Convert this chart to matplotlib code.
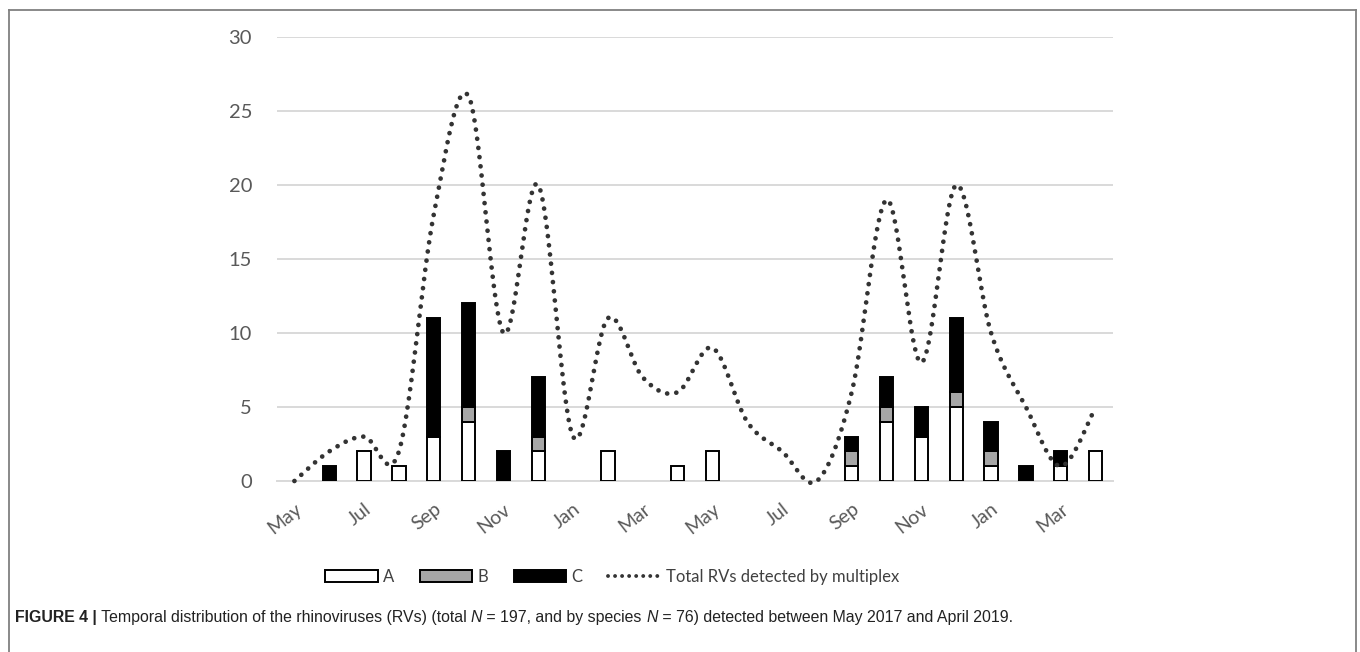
import numpy as np
import matplotlib
matplotlib.use('Agg')
import matplotlib.pyplot as plt
from matplotlib.patches import Patch
from matplotlib.lines import Line2D

# ---------------- data ----------------
months = ['May', 'Jun', 'Jul', 'Aug', 'Sep', 'Oct', 'Nov', 'Dec', 'Jan', 'Feb', 'Mar', 'Apr',
          'May', 'Jun', 'Jul', 'Aug', 'Sep', 'Oct', 'Nov', 'Dec', 'Jan', 'Feb', 'Mar', 'Apr']
species_a = [0, 0, 2, 1, 3, 4, 0, 2, 0, 2, 0, 1, 2, 0, 0, 0, 1, 4, 3, 5, 1, 0, 1, 2]
species_b = [0, 0, 0, 0, 0, 1, 0, 1, 0, 0, 0, 0, 0, 0, 0, 0, 1, 1, 0, 1, 1, 0, 0, 0]
species_c = [0, 1, 0, 0, 8, 7, 2, 4, 0, 0, 0, 0, 0, 0, 0, 0, 1, 2, 2, 5, 2, 1, 1, 0]
total_rv = [0, 2, 3, 2, 18, 26, 10, 20, 3, 11, 7, 6, 9, 4, 2, 0, 6, 19, 8, 20, 10, 5, 1, 5]
yticks = [0, 5, 10, 15, 20, 25, 30]
legend_labels = ['A', 'B', 'C', 'Total RVs detected by multiplex']
caption_parts = [('FIGURE 4 |', 'bold', 'normal'),
                 (' Temporal distribution of the rhinoviruses (RVs) (total ', 'normal', 'normal'),
                 ('N', 'normal', 'italic'),
                 (' = 197, and by species ', 'normal', 'normal'),
                 ('N', 'normal', 'italic'),
                 (' = 76) detected between May 2017 and April 2019.', 'normal', 'normal')]

plt.rcParams['font.family'] = ['Lato', 'DejaVu Sans']

W, H = 1360, 652
fig = plt.figure(figsize=(W / 100, H / 100), dpi=100)
ax = fig.add_axes([277 / W, 1 - 481 / H, (1113 - 277) / W, (481 - 37) / H])

x = np.arange(len(months))
a = np.array(species_a, float)
b = np.array(species_b, float)
c = np.array(species_c, float)
bw = 0.38


def edges(h):
    return ['black' if v > 0 else 'none' for v in h]


ax.bar(x, a, bw, color='white', edgecolor=edges(a), linewidth=1.4, zorder=3)
ax.bar(x, b, bw, bottom=a, color='#a6a6a6', edgecolor=edges(b), linewidth=1.4, zorder=3)
ax.bar(x, c, bw, bottom=a + b, color='black', edgecolor=edges(c), linewidth=1.4, zorder=3)

# smoothed line (Catmull-Rom through the data points, like Excel's smoothed line)
p = np.column_stack([x, np.array(total_rv, float)])
pts = []
n = len(p)
for i in range(n - 1):
    p0 = p[i - 1] if i > 0 else p[i]
    p1 = p[i]
    p2 = p[i + 1]
    p3 = p[i + 2] if i + 2 < n else p[i + 1]
    c1 = p1 + (p2 - p0) / 6.0
    c2 = p2 - (p3 - p1) / 6.0
    t = np.linspace(0, 1, 40)[:, None]
    seg = ((1 - t) ** 3) * p1 + 3 * ((1 - t) ** 2) * t * c1 + 3 * (1 - t) * t ** 2 * c2 + t ** 3 * p2
    pts.append(seg if i == 0 else seg[1:])
pts = np.vstack(pts)
dot_style = (0, (0.01, 1.95))
ax.plot(pts[:, 0], pts[:, 1], color='#333333', linewidth=3.4,
        linestyle=dot_style, dash_capstyle='round', zorder=4, clip_on=False)

ax.set_xlim(-0.5, 23.5)
ax.set_ylim(0, 30)
ax.set_yticks(yticks)
ax.set_yticklabels([str(v) for v in yticks])
ax.set_xticks(x[::2])
ax.set_xticklabels(months[::2], rotation=38, ha='right', rotation_mode='anchor')
ax.yaxis.grid(True, color='#d9d9d9', linewidth=1.4, zorder=0)
ax.set_axisbelow(True)
for s in ['top', 'right', 'left']:
    ax.spines[s].set_visible(False)
ax.spines['bottom'].set_color('#d9d9d9')
ax.spines['bottom'].set_linewidth(1.4)
ax.tick_params(axis='both', length=0, labelcolor='#595959')
ax.tick_params(axis='y', pad=18, labelsize=14.5)
ax.tick_params(axis='x', pad=14, labelsize=14)

handles = [Patch(facecolor='white', edgecolor='black', linewidth=1.4),
           Patch(facecolor='#a6a6a6', edgecolor='black', linewidth=1.4),
           Patch(facecolor='black', edgecolor='black', linewidth=1.4),
           Line2D([], [], color='#333333', linewidth=2.8, linestyle=(0, (0.01, 1.8)),
                  dash_capstyle='round')]
leg = fig.legend(handles, legend_labels, loc='center', bbox_to_anchor=(612 / W, 1 - 577 / H),
                 ncol=4, frameon=False, fontsize=12, handlelength=3.15, handleheight=0.75,
                 handletextpad=0.3, columnspacing=1.55, labelcolor='#404040')

# frame around the figure
for xs, ys in [([8.5, 8.5], [H, 10]), ([8.5, 1355.5], [10, 10]), ([1355.5, 1355.5], [10, H])]:
    fig.add_artist(Line2D([v / W for v in xs], [1 - v / H for v in ys], color='#808080',
                          linewidth=1.3))

# caption with mixed styles
fig.canvas.draw()
r = fig.canvas.get_renderer()
xpos = 15
for txt, wt, st in caption_parts:
    t = fig.text(xpos / W, 1 - 622 / H, txt, fontsize=11.4, fontweight=wt, fontstyle=st,
                 family=['Liberation Sans', 'DejaVu Sans'], color='#222222', va='baseline')
    bb = t.get_window_extent(renderer=r)
    xpos += bb.width

fig.savefig('out.png', dpi=100)
